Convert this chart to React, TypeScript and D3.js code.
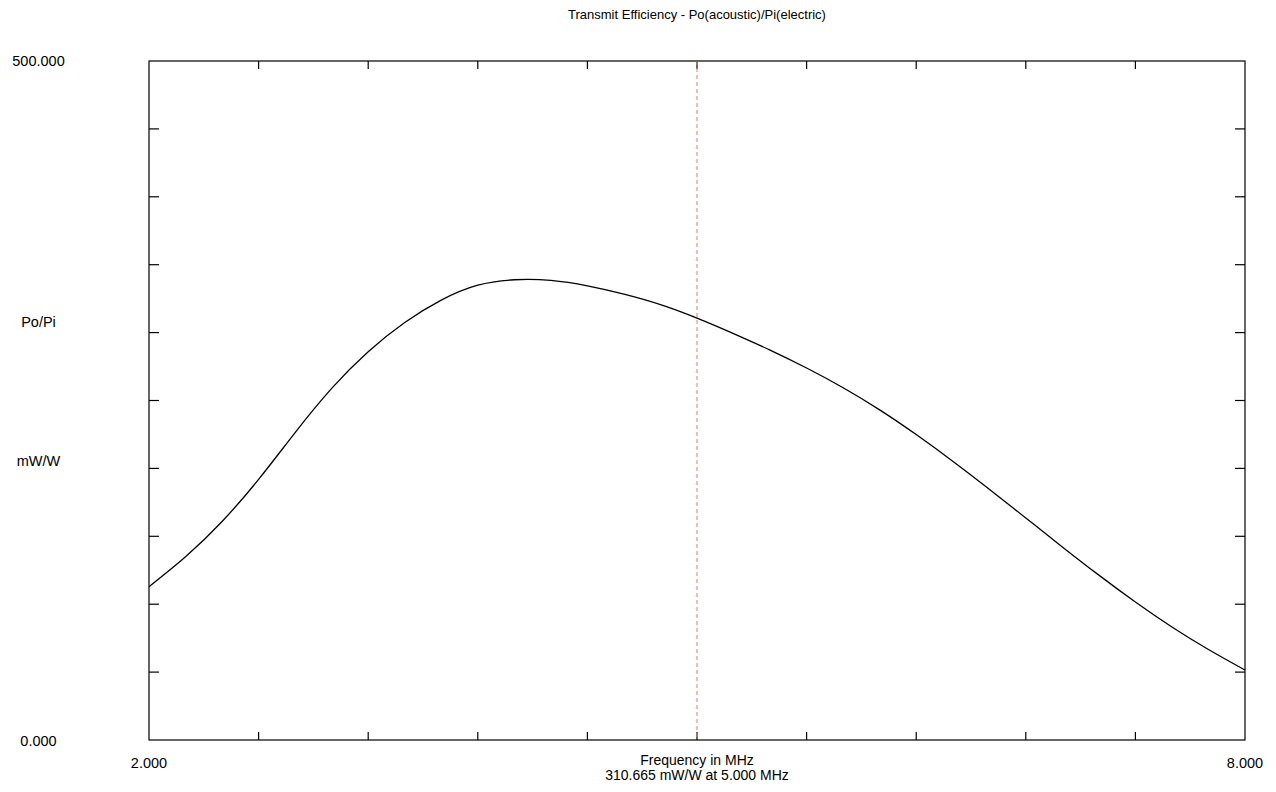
import React from "react";
import * as d3 from "d3";

const freqs = [2.0, 2.2, 2.4, 2.6, 2.8, 3.0, 3.2, 3.4, 3.6, 3.8, 4.0, 4.2, 4.4, 4.6, 4.8, 5.0, 5.2, 5.4, 5.6, 5.8, 6.0, 6.2, 6.4, 6.6, 6.8, 7.0, 7.2, 7.4, 7.6, 7.8, 8.0];
const efficiency = [112.9, 134.9, 160.9, 191.9, 226.4, 258.9, 285.9, 307.4, 323.9, 334.9, 338.9, 338.4, 334.4, 328.3, 320.6, 310.7, 299.3, 287.1, 273.9, 259.4, 243.1, 224.9, 205.3, 184.7, 163.5, 142.2, 121.4, 101.6, 83.2, 66.6, 51.5];
const xTicks = [2.0, 2.6, 3.2, 3.8, 4.4, 5.0, 5.6, 6.2, 6.8, 7.4, 8.0];
const yTicks = [0, 50, 100, 150, 200, 250, 300, 350, 400, 450, 500];
const markerFreq = 5.0;
const markerValue = 310.665;
const title = "Transmit Efficiency - Po(acoustic)/Pi(electric)";

export default function App() {
  const W = 1276, H = 792;
  const x = d3.scaleLinear().domain([2, 8]).range([149, 1245]);
  const y = d3.scaleLinear().domain([0, 500]).range([740, 61]);
  const data = freqs.map((f, i) => [f, efficiency[i]] as [number, number]);
  const line = d3.line<[number, number]>()
    .x(d => x(d[0]))
    .y(d => y(d[1]))
    .curve(d3.curveNatural);
  const font = "'Liberation Sans', Arial, sans-serif";
  const fs = 14.5;
  const [x0, x1] = x.range();
  const [y0, y1] = y.range();
  return (
    <svg width={W} height={H} style={{ position: "absolute", left: 0, top: 0, background: "#fff" }} fontFamily={font} fontSize={fs}>
      <rect x={0} y={0} width={W} height={H} fill="#fff" />
      <text x={x(5)} y={19} textAnchor="middle" fill="#000" fontSize={13}>{title}</text>
      {/* frame */}
      <rect x={x0} y={y1} width={x1 - x0} height={y0 - y1} fill="none" stroke="#000" strokeWidth={1.2} />
      {/* x ticks top & bottom */}
      {xTicks.slice(1, -1).map(t => (
        <g key={"xt" + t}>
          <line x1={x(t)} x2={x(t)} y1={y0} y2={y0 - 8} stroke="#000" strokeWidth={1.2} />
          <line x1={x(t)} x2={x(t)} y1={y1} y2={y1 + 8} stroke="#000" strokeWidth={1.2} />
        </g>
      ))}
      {yTicks.slice(1, -1).map(t => (
        <g key={"yt" + t}>
          <line x1={x0} x2={x0 + 10} y1={y(t)} y2={y(t)} stroke="#000" strokeWidth={1.2} />
          <line x1={x1} x2={x1 - 10} y1={y(t)} y2={y(t)} stroke="#000" strokeWidth={1.2} />
        </g>
      ))}
      {/* marker */}
      <line x1={x(markerFreq)} x2={x(markerFreq)} y1={y1} y2={y0} stroke="#e07a7a" strokeWidth={1} strokeDasharray="4 3" />
      {/* curve */}
      <path d={line(data) || ""} fill="none" stroke="#000" strokeWidth={1.3} />
      {/* y labels */}
      <text x={38.5} y={66} textAnchor="middle" fill="#000">{yTicks[yTicks.length - 1].toFixed(3)}</text>
      <text x={38.5} y={746} textAnchor="middle" fill="#000">{yTicks[0].toFixed(3)}</text>
      <text x={38.5} y={327} textAnchor="middle" fill="#000">Po/Pi</text>
      <text x={38.5} y={466} textAnchor="middle" fill="#000">mW/W</text>
      {/* x labels */}
      <text x={x0} y={768} textAnchor="middle" fill="#000">{xTicks[0].toFixed(3)}</text>
      <text x={x1} y={768} textAnchor="middle" fill="#000">{xTicks[xTicks.length - 1].toFixed(3)}</text>
      <text x={x(5)} y={765} textAnchor="middle" fill="#000" fontSize={14}>Frequency in MHz</text>
      <text x={x(5)} y={780} textAnchor="middle" fill="#000" fontSize={14}>{`${markerValue.toFixed(3)} mW/W at ${markerFreq.toFixed(3)} MHz`}</text>
    </svg>
  );
}
